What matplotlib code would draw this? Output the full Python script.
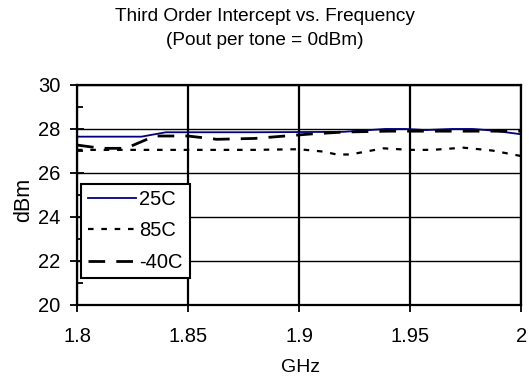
import matplotlib
matplotlib.use('Agg')
import matplotlib.pyplot as plt
from matplotlib.ticker import MultipleLocator

plt.rcParams['font.family'] = ['Liberation Sans', 'DejaVu Sans']

# Datos
freq_25 = [1.800, 1.829, 1.840, 1.880, 1.920, 1.939, 1.948, 1.957, 1.969, 1.978, 1.987, 2.000]
tip_25 = [27.65, 27.65, 27.85, 27.85, 27.87, 28.0, 28.0, 27.95, 28.0, 28.0, 27.93, 27.76]

freq_85 = [1.800, 1.850, 1.880, 1.900, 1.911, 1.917, 1.923, 1.938, 1.950, 1.960, 1.974, 1.987, 2.000]
tip_85 = [27.05, 27.05, 27.05, 27.08, 26.97, 26.84, 26.84, 27.12, 27.05, 27.05, 27.15, 27.02, 26.77]

freq_m40 = [1.800, 1.811, 1.822, 1.835, 1.850, 1.863, 1.880, 1.905, 1.920, 1.940, 1.960, 1.980, 2.000]
tip_m40 = [27.27, 27.12, 27.12, 27.68, 27.68, 27.53, 27.57, 27.77, 27.86, 27.9, 27.9, 27.9, 27.9]

fig = plt.figure(figsize=(5.29, 3.81), dpi=100)
ax = fig.add_axes([0.1456, 0.1995, 0.8394, 0.5775])

ax.plot(freq_25, tip_25, color='#000080', lw=1.3, label='25C')
ax.plot(freq_85, tip_85, color='black', lw=1.6, dashes=(2.5, 3.5), label='85C')
ax.plot(freq_m40, tip_m40, color='black', lw=2.0, dashes=(6, 4), label='-40C')

ax.set_xlim(1.8, 2.0)
ax.set_ylim(20, 30)
ax.set_xticks([1.8, 1.85, 1.9, 1.95, 2.0])
ax.set_xticklabels(['1.8', '1.85', '1.9', '1.95', '2'])
ax.yaxis.set_major_locator(MultipleLocator(2))
ax.yaxis.set_minor_locator(MultipleLocator(1))

ax.grid(axis='x', color='black', lw=1.6)
ax.grid(axis='y', which='major', color='black', lw=1.0)

for s in ax.spines.values():
    s.set_linewidth(1.6)
ax.tick_params(axis='y', which='major', direction='inout', length=10, width=1.3, labelsize=14.5, pad=7)
ax.tick_params(axis='y', which='minor', direction='in', length=4, width=1.3)
ax.tick_params(axis='x', which='major', direction='out', length=5, width=1.3, labelsize=14.5, pad=11)

# Titulos y etiquetas de ejes
fig.text(0.5, 0.958, 'Third Order Intercept vs. Frequency', ha='center', va='center', fontsize=13.7)
fig.text(0.5, 0.895, '(Pout per tone = 0dBm)', ha='center', va='center', fontsize=13.7)
fig.text(301 / 529, 1 - 367 / 381, 'GHz', ha='center', va='center', fontsize=14)
fig.text(24 / 529, 1 - 200 / 381, 'dBm', ha='center', va='center', rotation=90, fontsize=15.5)

leg = ax.legend(loc='lower left', bbox_to_anchor=(0.01, 0.123, 0.245, 0.43), mode='expand',
                fontsize=14.5, frameon=True, fancybox=False, handlelength=2.4,
                handletextpad=0.15, borderpad=0.3, labelspacing=0.62, borderaxespad=0)
leg.get_frame().set_edgecolor('black')
leg.get_frame().set_linewidth(1.5)
leg.get_frame().set_alpha(1)

fig.savefig('out.png', dpi=100)
